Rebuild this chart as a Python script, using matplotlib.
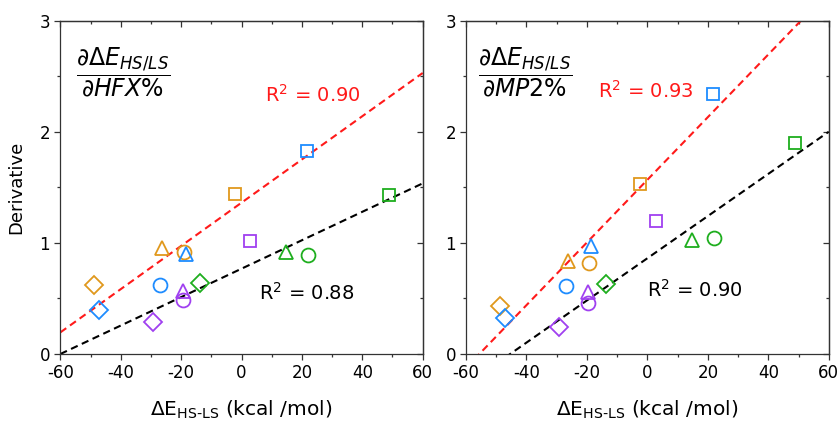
import matplotlib
matplotlib.use('Agg')
import matplotlib.pyplot as plt
from matplotlib.ticker import MultipleLocator

plt.rcParams['font.family'] = 'DejaVu Sans'
plt.rcParams['axes.unicode_minus'] = False
plt.rcParams['mathtext.fontset'] = 'dejavusans'

# Data
series = ['orange', 'blue', 'purple', 'green']
colors = {'orange': '#E0981C', 'blue': '#1E8CFF', 'purple': '#A040F0', 'green': '#1EAE1E'}
shapes = ['D', '^', 'o', 's']   # diamond, triangle, circle, square

# x = Delta E HS-LS (kcal/mol), one list per colour, ordered as shapes
dE = {
    'orange': [-48.9, -26.2, -19.2, -2.3],
    'blue':   [-47.1, -18.5, -26.9, 21.7],
    'purple': [-29.2, -19.5, -19.5, 2.9],
    'green':  [-13.6, 14.9, 22.1, 48.9],
}
# derivative w.r.t. HFX%
d_hfx = {
    'orange': [0.62, 0.95, 0.915, 1.44],
    'blue':   [0.40, 0.90, 0.62, 1.83],
    'purple': [0.29, 0.57, 0.49, 1.02],
    'green':  [0.64, 0.92, 0.89, 1.43],
}
# derivative w.r.t. MP2%
d_mp2 = {
    'orange': [0.43, 0.84, 0.82, 1.53],
    'blue':   [0.32, 0.97, 0.61, 2.34],
    'purple': [0.24, 0.555, 0.456, 1.20],
    'green':  [0.63, 1.03, 1.04, 1.90],
}

# fitted lines: (slope, intercept)
fit_hfx = {'red': (0.01946, 1.362), 'black': (0.0128, 0.768)}
fit_mp2 = {'red': (0.0282, 1.568), 'black': (0.01898, 0.862)}
r2_hfx = {'red': 'R$^2$ = 0.90', 'black': 'R$^2$ = 0.88'}
r2_mp2 = {'red': 'R$^2$ = 0.93', 'black': 'R$^2$ = 0.90'}

fig = plt.figure(figsize=(8.4, 4.22), dpi=100)
ax1 = fig.add_axes([0.0718, 0.1611, 0.4314, 0.7898])
ax2 = fig.add_axes([0.5548, 0.1611, 0.4318, 0.7898])

msizes = {'D': 9.5, '^': 10, 'o': 10, 's': 8.5}


def draw_panel(ax, yvals, fits, r2, r2pos, title, titlepos):
    x_line = [-60, 60]
    for key, col in [('red', '#FF1A1A'), ('black', 'black')]:
        m, b = fits[key]
        ax.plot(x_line, [m * x + b for x in x_line], linestyle=(0, (3.5, 2.2)),
                color=col, lw=1.5, zorder=2)
    for s in series:
        for xi, yi, mk in zip(dE[s], yvals[s], shapes):
            ax.plot(xi, yi, marker=mk, ms=msizes[mk], mfc='none', mec=colors[s],
                    mew=1.3, ls='none', zorder=3)
    for key, col in [('red', '#FF1A1A'), ('black', 'black')]:
        ax.text(r2pos[key][0], r2pos[key][1], r2[key], color=col, fontsize=14,
                ha='center', va='center')
    ax.text(titlepos[0], titlepos[1], title, transform=ax.transAxes,
            fontsize=17, ha='center', va='center')

    ax.set_xlim(-60, 60)
    ax.set_ylim(0, 3)
    ax.xaxis.set_major_locator(MultipleLocator(20))
    ax.xaxis.set_minor_locator(MultipleLocator(10))
    ax.yaxis.set_major_locator(MultipleLocator(1))
    ax.yaxis.set_minor_locator(MultipleLocator(0.5))
    ax.tick_params(which='both', direction='out', labelsize=12, color='#333333', width=0.9)
    ax.tick_params(which='major', length=4.3, pad=3)
    ax.tick_params(which='minor', length=2.3)
    for sp in ax.spines.values():
        sp.set_color('#333333')
        sp.set_linewidth(0.9)

    # mirrored ticks pointing inward on top and right
    top = ax.secondary_xaxis('top')
    right = ax.secondary_yaxis('right')
    top.xaxis.set_major_locator(MultipleLocator(20))
    top.xaxis.set_minor_locator(MultipleLocator(10))
    right.yaxis.set_major_locator(MultipleLocator(1))
    right.yaxis.set_minor_locator(MultipleLocator(0.5))
    for sec in (top, right):
        sec.tick_params(which='both', direction='in', labelsize=0, color='#333333', width=0.9)
        sec.tick_params(which='major', length=4.3)
        sec.tick_params(which='minor', length=2.3)
        for sp in sec.spines.values():
            sp.set_color('#333333')
            sp.set_linewidth(0.9)
    top.set_xticklabels([])
    right.set_yticklabels([])

    ax.set_xlabel(r'$\Delta$E$_{\mathregular{HS‐LS}}$ (kcal /mol)', fontsize=14.5, labelpad=12)


draw_panel(ax1, d_hfx, fit_hfx, r2_hfx,
           {'red': (23.5, 2.33), 'black': (21.7, 0.55)},
           r'$\dfrac{\partial\Delta E_{HS/LS}}{\partial HFX\%}$', (0.173, 0.845))
draw_panel(ax2, d_mp2, fit_mp2, r2_mp2,
           {'red': (-0.5, 2.37), 'black': (15.8, 0.576)},
           r'$\dfrac{\partial\Delta E_{HS/LS}}{\partial MP2\%}$', (0.163, 0.845))

ax1.set_ylabel('Derivative', fontsize=13, labelpad=10)

fig.savefig('out.png', dpi=100)
